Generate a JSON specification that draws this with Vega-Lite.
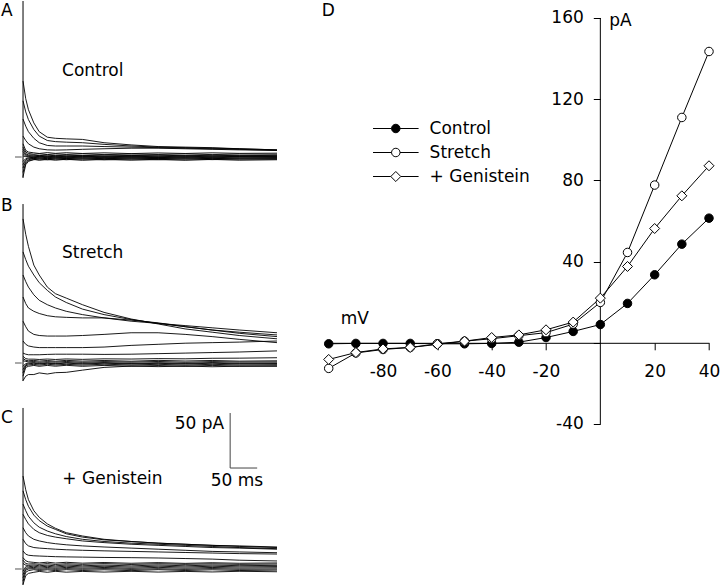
{
"$schema":"https://vega.github.io/schema/vega-lite/v6.json",
"padding":0,
"background":"white",
"bounds":"flush",
"spacing":328.7,
"config":{"view":{"stroke":null},"font":"DejaVu Sans","text":{"font":"DejaVu Sans","fontSize":17,"color":"black"},"axis":{"labelFont":"DejaVu Sans","labelFontSize":17,"labelColor":"black","domainColor":"black","tickColor":"black","grid":false,"title":null}},
"datasets":{
"tr":[
{"p":"A","v":40,"t":0,"i":69},{"p":"A","v":40,"t":5,"i":53},{"p":"A","v":40,"t":10,"i":43},{"p":"A","v":40,"t":20,"i":31},{"p":"A","v":40,"t":30,"i":23},{"p":"A","v":40,"t":45,"i":18},{"p":"A","v":40,"t":60,"i":17},{"p":"A","v":40,"t":80,"i":16.5},{"p":"A","v":40,"t":110,"i":16},{"p":"A","v":40,"t":150,"i":13},{"p":"A","v":40,"t":200,"i":11},{"p":"A","v":40,"t":250,"i":9.5},{"p":"A","v":40,"t":300,"i":9},{"p":"A","v":40,"t":350,"i":8.5},{"p":"A","v":40,"t":400,"i":7.5},{"p":"A","v":40,"t":470,"i":6.5},
{"p":"A","v":30,"t":0,"i":51},{"p":"A","v":30,"t":5,"i":41},{"p":"A","v":30,"t":10,"i":34},{"p":"A","v":30,"t":20,"i":25},{"p":"A","v":30,"t":30,"i":19},{"p":"A","v":30,"t":45,"i":15},{"p":"A","v":30,"t":60,"i":14},{"p":"A","v":30,"t":80,"i":13.5},{"p":"A","v":30,"t":110,"i":13},{"p":"A","v":30,"t":150,"i":11.5},{"p":"A","v":30,"t":200,"i":10},{"p":"A","v":30,"t":250,"i":9},{"p":"A","v":30,"t":300,"i":8.5},{"p":"A","v":30,"t":350,"i":8},{"p":"A","v":30,"t":400,"i":7.5},{"p":"A","v":30,"t":470,"i":6.5},
{"p":"A","v":20,"t":0,"i":34.5},{"p":"A","v":20,"t":5,"i":28},{"p":"A","v":20,"t":10,"i":23},{"p":"A","v":20,"t":20,"i":17},{"p":"A","v":20,"t":30,"i":13},{"p":"A","v":20,"t":45,"i":10.5},{"p":"A","v":20,"t":60,"i":10},{"p":"A","v":20,"t":80,"i":10},{"p":"A","v":20,"t":110,"i":10},{"p":"A","v":20,"t":150,"i":9.5},{"p":"A","v":20,"t":200,"i":9},{"p":"A","v":20,"t":250,"i":8.5},{"p":"A","v":20,"t":300,"i":8},{"p":"A","v":20,"t":350,"i":7.5},{"p":"A","v":20,"t":400,"i":7},{"p":"A","v":20,"t":470,"i":6},
{"p":"A","v":10,"t":0,"i":19},{"p":"A","v":10,"t":5,"i":15},{"p":"A","v":10,"t":10,"i":12},{"p":"A","v":10,"t":20,"i":9},{"p":"A","v":10,"t":30,"i":7.5},{"p":"A","v":10,"t":45,"i":6.5},{"p":"A","v":10,"t":60,"i":6.3},{"p":"A","v":10,"t":80,"i":6.5},{"p":"A","v":10,"t":110,"i":7},{"p":"A","v":10,"t":150,"i":7.5},{"p":"A","v":10,"t":200,"i":8},{"p":"A","v":10,"t":250,"i":8},{"p":"A","v":10,"t":300,"i":7.5},{"p":"A","v":10,"t":350,"i":7},{"p":"A","v":10,"t":400,"i":6.5},{"p":"A","v":10,"t":470,"i":6},
{"p":"A","v":0,"t":0,"i":12},{"p":"A","v":0,"t":5,"i":6},{"p":"A","v":0,"t":10,"i":4.5},{"p":"A","v":0,"t":20,"i":3.8},{"p":"A","v":0,"t":30,"i":3.2},{"p":"A","v":0,"t":45,"i":4},{"p":"A","v":0,"t":60,"i":3.3},{"p":"A","v":0,"t":80,"i":3.9},{"p":"A","v":0,"t":110,"i":3.2},{"p":"A","v":0,"t":150,"i":3.8},{"p":"A","v":0,"t":200,"i":3.1},{"p":"A","v":0,"t":250,"i":3.7},{"p":"A","v":0,"t":300,"i":3.2},{"p":"A","v":0,"t":350,"i":3.8},{"p":"A","v":0,"t":400,"i":3.3},{"p":"A","v":0,"t":470,"i":3.5},
{"p":"A","v":-10,"t":0,"i":9},{"p":"A","v":-10,"t":5,"i":4.5},{"p":"A","v":-10,"t":10,"i":3.2},{"p":"A","v":-10,"t":20,"i":2.5},{"p":"A","v":-10,"t":30,"i":2.9},{"p":"A","v":-10,"t":45,"i":2.2},{"p":"A","v":-10,"t":60,"i":2.8},{"p":"A","v":-10,"t":80,"i":2.3},{"p":"A","v":-10,"t":110,"i":2.9},{"p":"A","v":-10,"t":150,"i":2.2},{"p":"A","v":-10,"t":200,"i":2.7},{"p":"A","v":-10,"t":250,"i":2.3},{"p":"A","v":-10,"t":300,"i":2.8},{"p":"A","v":-10,"t":350,"i":2.2},{"p":"A","v":-10,"t":400,"i":2.7},{"p":"A","v":-10,"t":470,"i":2.5},
{"p":"A","v":-20,"t":0,"i":7},{"p":"A","v":-20,"t":5,"i":3},{"p":"A","v":-20,"t":10,"i":2},{"p":"A","v":-20,"t":20,"i":1.8},{"p":"A","v":-20,"t":30,"i":1.2},{"p":"A","v":-20,"t":45,"i":1.8},{"p":"A","v":-20,"t":60,"i":1.1},{"p":"A","v":-20,"t":80,"i":1.7},{"p":"A","v":-20,"t":110,"i":1.2},{"p":"A","v":-20,"t":150,"i":1.8},{"p":"A","v":-20,"t":200,"i":1.3},{"p":"A","v":-20,"t":250,"i":1.7},{"p":"A","v":-20,"t":300,"i":1.1},{"p":"A","v":-20,"t":350,"i":1.6},{"p":"A","v":-20,"t":400,"i":1.2},{"p":"A","v":-20,"t":470,"i":1.5},
{"p":"A","v":-30,"t":0,"i":5},{"p":"A","v":-30,"t":5,"i":2},{"p":"A","v":-30,"t":10,"i":1.3},{"p":"A","v":-30,"t":20,"i":0.7},{"p":"A","v":-30,"t":30,"i":1.3},{"p":"A","v":-30,"t":45,"i":0.6},{"p":"A","v":-30,"t":60,"i":1.2},{"p":"A","v":-30,"t":80,"i":0.7},{"p":"A","v":-30,"t":110,"i":1.3},{"p":"A","v":-30,"t":150,"i":0.6},{"p":"A","v":-30,"t":200,"i":1.2},{"p":"A","v":-30,"t":250,"i":0.8},{"p":"A","v":-30,"t":300,"i":1.3},{"p":"A","v":-30,"t":350,"i":0.7},{"p":"A","v":-30,"t":400,"i":1.2},{"p":"A","v":-30,"t":470,"i":1},
{"p":"A","v":-40,"t":0,"i":3},{"p":"A","v":-40,"t":5,"i":1},{"p":"A","v":-40,"t":10,"i":0.5},{"p":"A","v":-40,"t":20,"i":0.9},{"p":"A","v":-40,"t":30,"i":0.2},{"p":"A","v":-40,"t":45,"i":0.8},{"p":"A","v":-40,"t":60,"i":0.1},{"p":"A","v":-40,"t":80,"i":0.7},{"p":"A","v":-40,"t":110,"i":0.2},{"p":"A","v":-40,"t":150,"i":0.8},{"p":"A","v":-40,"t":200,"i":0.2},{"p":"A","v":-40,"t":250,"i":0.7},{"p":"A","v":-40,"t":300,"i":0.1},{"p":"A","v":-40,"t":350,"i":0.8},{"p":"A","v":-40,"t":400,"i":0.3},{"p":"A","v":-40,"t":470,"i":0.5},
{"p":"A","v":-50,"t":0,"i":1},{"p":"A","v":-50,"t":5,"i":0.3},{"p":"A","v":-50,"t":10,"i":0},{"p":"A","v":-50,"t":20,"i":-0.4},{"p":"A","v":-50,"t":30,"i":0.4},{"p":"A","v":-50,"t":45,"i":-0.3},{"p":"A","v":-50,"t":60,"i":0.3},{"p":"A","v":-50,"t":80,"i":-0.4},{"p":"A","v":-50,"t":110,"i":0.4},{"p":"A","v":-50,"t":150,"i":-0.3},{"p":"A","v":-50,"t":200,"i":0.3},{"p":"A","v":-50,"t":250,"i":-0.4},{"p":"A","v":-50,"t":300,"i":0.3},{"p":"A","v":-50,"t":350,"i":-0.3},{"p":"A","v":-50,"t":400,"i":0.4},{"p":"A","v":-50,"t":470,"i":0},
{"p":"A","v":-60,"t":0,"i":-4},{"p":"A","v":-60,"t":5,"i":-1.5},{"p":"A","v":-60,"t":10,"i":-0.8},{"p":"A","v":-60,"t":20,"i":-0.2},{"p":"A","v":-60,"t":30,"i":-0.9},{"p":"A","v":-60,"t":45,"i":-0.2},{"p":"A","v":-60,"t":60,"i":-0.8},{"p":"A","v":-60,"t":80,"i":-0.1},{"p":"A","v":-60,"t":110,"i":-0.9},{"p":"A","v":-60,"t":150,"i":-0.2},{"p":"A","v":-60,"t":200,"i":-0.8},{"p":"A","v":-60,"t":250,"i":-0.3},{"p":"A","v":-60,"t":300,"i":-0.9},{"p":"A","v":-60,"t":350,"i":-0.2},{"p":"A","v":-60,"t":400,"i":-0.8},{"p":"A","v":-60,"t":470,"i":-0.5},
{"p":"A","v":-70,"t":0,"i":-7},{"p":"A","v":-70,"t":5,"i":-2.5},{"p":"A","v":-70,"t":10,"i":-1.5},{"p":"A","v":-70,"t":20,"i":-1.4},{"p":"A","v":-70,"t":30,"i":-0.6},{"p":"A","v":-70,"t":45,"i":-1.5},{"p":"A","v":-70,"t":60,"i":-0.7},{"p":"A","v":-70,"t":80,"i":-1.4},{"p":"A","v":-70,"t":110,"i":-0.6},{"p":"A","v":-70,"t":150,"i":-1.5},{"p":"A","v":-70,"t":200,"i":-0.7},{"p":"A","v":-70,"t":250,"i":-1.4},{"p":"A","v":-70,"t":300,"i":-0.6},{"p":"A","v":-70,"t":350,"i":-1.5},{"p":"A","v":-70,"t":400,"i":-0.8},{"p":"A","v":-70,"t":470,"i":-1},
{"p":"A","v":-80,"t":0,"i":-10},{"p":"A","v":-80,"t":5,"i":-4},{"p":"A","v":-80,"t":10,"i":-2.5},{"p":"A","v":-80,"t":20,"i":-1.2},{"p":"A","v":-80,"t":30,"i":-1.9},{"p":"A","v":-80,"t":45,"i":-1.1},{"p":"A","v":-80,"t":60,"i":-1.8},{"p":"A","v":-80,"t":80,"i":-1.2},{"p":"A","v":-80,"t":110,"i":-1.9},{"p":"A","v":-80,"t":150,"i":-1.1},{"p":"A","v":-80,"t":200,"i":-1.8},{"p":"A","v":-80,"t":250,"i":-1.2},{"p":"A","v":-80,"t":300,"i":-1.9},{"p":"A","v":-80,"t":350,"i":-1.2},{"p":"A","v":-80,"t":400,"i":-1.8},{"p":"A","v":-80,"t":470,"i":-1.5},
{"p":"A","v":-90,"t":0,"i":-14},{"p":"A","v":-90,"t":5,"i":-5.5},{"p":"A","v":-90,"t":10,"i":-3},{"p":"A","v":-90,"t":20,"i":-2.5},{"p":"A","v":-90,"t":30,"i":-1.7},{"p":"A","v":-90,"t":45,"i":-2.6},{"p":"A","v":-90,"t":60,"i":-1.8},{"p":"A","v":-90,"t":80,"i":-2.5},{"p":"A","v":-90,"t":110,"i":-1.7},{"p":"A","v":-90,"t":150,"i":-2.6},{"p":"A","v":-90,"t":200,"i":-1.8},{"p":"A","v":-90,"t":250,"i":-2.5},{"p":"A","v":-90,"t":300,"i":-1.7},{"p":"A","v":-90,"t":350,"i":-2.4},{"p":"A","v":-90,"t":400,"i":-1.8},{"p":"A","v":-90,"t":470,"i":-2},
{"p":"A","v":-100,"t":0,"i":-18},{"p":"A","v":-100,"t":5,"i":-7},{"p":"A","v":-100,"t":10,"i":-4},{"p":"A","v":-100,"t":20,"i":-2.2},{"p":"A","v":-100,"t":30,"i":-3},{"p":"A","v":-100,"t":45,"i":-2.2},{"p":"A","v":-100,"t":60,"i":-2.9},{"p":"A","v":-100,"t":80,"i":-2.1},{"p":"A","v":-100,"t":110,"i":-3},{"p":"A","v":-100,"t":150,"i":-2.2},{"p":"A","v":-100,"t":200,"i":-2.9},{"p":"A","v":-100,"t":250,"i":-2.3},{"p":"A","v":-100,"t":300,"i":-3},{"p":"A","v":-100,"t":350,"i":-2.2},{"p":"A","v":-100,"t":400,"i":-2.9},{"p":"A","v":-100,"t":470,"i":-2.5},
{"p":"B","v":40,"t":0,"i":131},{"p":"B","v":40,"t":5,"i":117},{"p":"B","v":40,"t":10,"i":106},{"p":"B","v":40,"t":20,"i":89},{"p":"B","v":40,"t":30,"i":80},{"p":"B","v":40,"t":45,"i":69},{"p":"B","v":40,"t":60,"i":63},{"p":"B","v":40,"t":80,"i":59},{"p":"B","v":40,"t":110,"i":53},{"p":"B","v":40,"t":150,"i":46},{"p":"B","v":40,"t":200,"i":40},{"p":"B","v":40,"t":250,"i":35.5},{"p":"B","v":40,"t":300,"i":31},{"p":"B","v":40,"t":350,"i":28},{"p":"B","v":40,"t":400,"i":25},{"p":"B","v":40,"t":470,"i":22},
{"p":"B","v":30,"t":0,"i":101},{"p":"B","v":30,"t":5,"i":94},{"p":"B","v":30,"t":10,"i":88},{"p":"B","v":30,"t":20,"i":80},{"p":"B","v":30,"t":30,"i":73},{"p":"B","v":30,"t":45,"i":66},{"p":"B","v":30,"t":60,"i":60},{"p":"B","v":30,"t":80,"i":55},{"p":"B","v":30,"t":110,"i":49},{"p":"B","v":30,"t":150,"i":44},{"p":"B","v":30,"t":200,"i":39.5},{"p":"B","v":30,"t":250,"i":36},{"p":"B","v":30,"t":300,"i":33},{"p":"B","v":30,"t":350,"i":30},{"p":"B","v":30,"t":400,"i":28},{"p":"B","v":30,"t":470,"i":25.5},
{"p":"B","v":20,"t":0,"i":80},{"p":"B","v":20,"t":5,"i":74},{"p":"B","v":20,"t":10,"i":69},{"p":"B","v":20,"t":20,"i":62},{"p":"B","v":20,"t":30,"i":57},{"p":"B","v":20,"t":45,"i":53},{"p":"B","v":20,"t":60,"i":50},{"p":"B","v":20,"t":80,"i":47},{"p":"B","v":20,"t":110,"i":44},{"p":"B","v":20,"t":150,"i":41},{"p":"B","v":20,"t":200,"i":38},{"p":"B","v":20,"t":250,"i":36},{"p":"B","v":20,"t":300,"i":34},{"p":"B","v":20,"t":350,"i":32},{"p":"B","v":20,"t":400,"i":30},{"p":"B","v":20,"t":470,"i":27.5},
{"p":"B","v":10,"t":0,"i":60},{"p":"B","v":10,"t":5,"i":54},{"p":"B","v":10,"t":10,"i":50},{"p":"B","v":10,"t":20,"i":47},{"p":"B","v":10,"t":30,"i":45},{"p":"B","v":10,"t":45,"i":43},{"p":"B","v":10,"t":60,"i":42},{"p":"B","v":10,"t":80,"i":41.5},{"p":"B","v":10,"t":110,"i":41},{"p":"B","v":10,"t":150,"i":41},{"p":"B","v":10,"t":200,"i":39},{"p":"B","v":10,"t":250,"i":36.5},{"p":"B","v":10,"t":300,"i":33},{"p":"B","v":10,"t":350,"i":30},{"p":"B","v":10,"t":400,"i":27},{"p":"B","v":10,"t":470,"i":24},
{"p":"B","v":0,"t":0,"i":38},{"p":"B","v":0,"t":5,"i":33},{"p":"B","v":0,"t":10,"i":29},{"p":"B","v":0,"t":20,"i":26},{"p":"B","v":0,"t":30,"i":25},{"p":"B","v":0,"t":45,"i":24.5},{"p":"B","v":0,"t":60,"i":24.5},{"p":"B","v":0,"t":80,"i":24.5},{"p":"B","v":0,"t":110,"i":25},{"p":"B","v":0,"t":150,"i":26},{"p":"B","v":0,"t":200,"i":27.5},{"p":"B","v":0,"t":250,"i":27.5},{"p":"B","v":0,"t":300,"i":26},{"p":"B","v":0,"t":350,"i":24},{"p":"B","v":0,"t":400,"i":21.5},{"p":"B","v":0,"t":470,"i":18.5},
{"p":"B","v":-10,"t":0,"i":20},{"p":"B","v":-10,"t":5,"i":17},{"p":"B","v":-10,"t":10,"i":15.5},{"p":"B","v":-10,"t":20,"i":14.5},{"p":"B","v":-10,"t":30,"i":14},{"p":"B","v":-10,"t":45,"i":14},{"p":"B","v":-10,"t":60,"i":14},{"p":"B","v":-10,"t":80,"i":14},{"p":"B","v":-10,"t":110,"i":14},{"p":"B","v":-10,"t":150,"i":14.5},{"p":"B","v":-10,"t":200,"i":16},{"p":"B","v":-10,"t":250,"i":17},{"p":"B","v":-10,"t":300,"i":18},{"p":"B","v":-10,"t":350,"i":18.5},{"p":"B","v":-10,"t":400,"i":19},{"p":"B","v":-10,"t":470,"i":20},
{"p":"B","v":-20,"t":0,"i":9},{"p":"B","v":-20,"t":5,"i":8},{"p":"B","v":-20,"t":10,"i":7.5},{"p":"B","v":-20,"t":20,"i":7.5},{"p":"B","v":-20,"t":30,"i":7.5},{"p":"B","v":-20,"t":45,"i":7.8},{"p":"B","v":-20,"t":60,"i":8},{"p":"B","v":-20,"t":80,"i":8},{"p":"B","v":-20,"t":110,"i":8},{"p":"B","v":-20,"t":150,"i":7.8},{"p":"B","v":-20,"t":200,"i":8},{"p":"B","v":-20,"t":250,"i":8.5},{"p":"B","v":-20,"t":300,"i":9},{"p":"B","v":-20,"t":350,"i":9.5},{"p":"B","v":-20,"t":400,"i":10},{"p":"B","v":-20,"t":470,"i":11},
{"p":"B","v":-30,"t":0,"i":6},{"p":"B","v":-30,"t":5,"i":4},{"p":"B","v":-30,"t":10,"i":3.5},{"p":"B","v":-30,"t":20,"i":3.5},{"p":"B","v":-30,"t":30,"i":3.2},{"p":"B","v":-30,"t":45,"i":3.6},{"p":"B","v":-30,"t":60,"i":3.2},{"p":"B","v":-30,"t":80,"i":3.7},{"p":"B","v":-30,"t":110,"i":3.3},{"p":"B","v":-30,"t":150,"i":3.8},{"p":"B","v":-30,"t":200,"i":3.6},{"p":"B","v":-30,"t":250,"i":4},{"p":"B","v":-30,"t":300,"i":3.8},{"p":"B","v":-30,"t":350,"i":4.3},{"p":"B","v":-30,"t":400,"i":4.4},{"p":"B","v":-30,"t":470,"i":4.8},
{"p":"B","v":-40,"t":0,"i":4},{"p":"B","v":-40,"t":5,"i":2.5},{"p":"B","v":-40,"t":10,"i":2},{"p":"B","v":-40,"t":20,"i":2.4},{"p":"B","v":-40,"t":30,"i":1.7},{"p":"B","v":-40,"t":45,"i":2.3},{"p":"B","v":-40,"t":60,"i":1.6},{"p":"B","v":-40,"t":80,"i":2.4},{"p":"B","v":-40,"t":110,"i":1.7},{"p":"B","v":-40,"t":150,"i":2.3},{"p":"B","v":-40,"t":200,"i":1.6},{"p":"B","v":-40,"t":250,"i":2.4},{"p":"B","v":-40,"t":300,"i":1.8},{"p":"B","v":-40,"t":350,"i":2.3},{"p":"B","v":-40,"t":400,"i":1.7},{"p":"B","v":-40,"t":470,"i":2},
{"p":"B","v":-50,"t":0,"i":2},{"p":"B","v":-50,"t":5,"i":1.5},{"p":"B","v":-50,"t":10,"i":1},{"p":"B","v":-50,"t":20,"i":1.4},{"p":"B","v":-50,"t":30,"i":0.6},{"p":"B","v":-50,"t":45,"i":1.3},{"p":"B","v":-50,"t":60,"i":0.7},{"p":"B","v":-50,"t":80,"i":1.4},{"p":"B","v":-50,"t":110,"i":0.6},{"p":"B","v":-50,"t":150,"i":1.3},{"p":"B","v":-50,"t":200,"i":0.7},{"p":"B","v":-50,"t":250,"i":1.4},{"p":"B","v":-50,"t":300,"i":0.6},{"p":"B","v":-50,"t":350,"i":1.3},{"p":"B","v":-50,"t":400,"i":0.8},{"p":"B","v":-50,"t":470,"i":1},
{"p":"B","v":-60,"t":0,"i":-3},{"p":"B","v":-60,"t":5,"i":-0.5},{"p":"B","v":-60,"t":10,"i":0},{"p":"B","v":-60,"t":20,"i":0.4},{"p":"B","v":-60,"t":30,"i":-0.4},{"p":"B","v":-60,"t":45,"i":0.3},{"p":"B","v":-60,"t":60,"i":-0.4},{"p":"B","v":-60,"t":80,"i":0.4},{"p":"B","v":-60,"t":110,"i":-0.3},{"p":"B","v":-60,"t":150,"i":0.4},{"p":"B","v":-60,"t":200,"i":-0.4},{"p":"B","v":-60,"t":250,"i":0.3},{"p":"B","v":-60,"t":300,"i":-0.4},{"p":"B","v":-60,"t":350,"i":0.4},{"p":"B","v":-60,"t":400,"i":-0.3},{"p":"B","v":-60,"t":470,"i":0},
{"p":"B","v":-70,"t":0,"i":-6},{"p":"B","v":-70,"t":5,"i":-1.5},{"p":"B","v":-70,"t":10,"i":-0.8},{"p":"B","v":-70,"t":20,"i":-0.2},{"p":"B","v":-70,"t":30,"i":-0.9},{"p":"B","v":-70,"t":45,"i":-0.2},{"p":"B","v":-70,"t":60,"i":-0.8},{"p":"B","v":-70,"t":80,"i":-0.1},{"p":"B","v":-70,"t":110,"i":-0.9},{"p":"B","v":-70,"t":150,"i":-0.2},{"p":"B","v":-70,"t":200,"i":-0.8},{"p":"B","v":-70,"t":250,"i":-0.3},{"p":"B","v":-70,"t":300,"i":-0.9},{"p":"B","v":-70,"t":350,"i":-0.2},{"p":"B","v":-70,"t":400,"i":-0.8},{"p":"B","v":-70,"t":470,"i":-0.5},
{"p":"B","v":-80,"t":0,"i":-9},{"p":"B","v":-80,"t":5,"i":-2.5},{"p":"B","v":-80,"t":10,"i":-1.8},{"p":"B","v":-80,"t":20,"i":-1.2},{"p":"B","v":-80,"t":30,"i":-1.9},{"p":"B","v":-80,"t":45,"i":-1.1},{"p":"B","v":-80,"t":60,"i":-1.8},{"p":"B","v":-80,"t":80,"i":-1.2},{"p":"B","v":-80,"t":110,"i":-1.9},{"p":"B","v":-80,"t":150,"i":-1.1},{"p":"B","v":-80,"t":200,"i":-1.8},{"p":"B","v":-80,"t":250,"i":-1.2},{"p":"B","v":-80,"t":300,"i":-1.9},{"p":"B","v":-80,"t":350,"i":-1.2},{"p":"B","v":-80,"t":400,"i":-1.8},{"p":"B","v":-80,"t":470,"i":-1.5},
{"p":"B","v":-90,"t":0,"i":-12},{"p":"B","v":-90,"t":5,"i":-4},{"p":"B","v":-90,"t":10,"i":-3},{"p":"B","v":-90,"t":20,"i":-2.2},{"p":"B","v":-90,"t":30,"i":-3},{"p":"B","v":-90,"t":45,"i":-2.2},{"p":"B","v":-90,"t":60,"i":-2.9},{"p":"B","v":-90,"t":80,"i":-2.1},{"p":"B","v":-90,"t":110,"i":-3},{"p":"B","v":-90,"t":150,"i":-2.2},{"p":"B","v":-90,"t":200,"i":-2.9},{"p":"B","v":-90,"t":250,"i":-2.3},{"p":"B","v":-90,"t":300,"i":-3},{"p":"B","v":-90,"t":350,"i":-2.2},{"p":"B","v":-90,"t":400,"i":-2.9},{"p":"B","v":-90,"t":470,"i":-2.5},
{"p":"B","v":-100,"t":0,"i":-16},{"p":"B","v":-100,"t":5,"i":-12},{"p":"B","v":-100,"t":10,"i":-10.5},{"p":"B","v":-100,"t":20,"i":-10.5},{"p":"B","v":-100,"t":30,"i":-9},{"p":"B","v":-100,"t":45,"i":-10},{"p":"B","v":-100,"t":60,"i":-8.8},{"p":"B","v":-100,"t":80,"i":-8.5},{"p":"B","v":-100,"t":110,"i":-6.5},{"p":"B","v":-100,"t":150,"i":-4},{"p":"B","v":-100,"t":200,"i":-2.8},{"p":"B","v":-100,"t":250,"i":-3.3},{"p":"B","v":-100,"t":300,"i":-2.8},{"p":"B","v":-100,"t":350,"i":-3.4},{"p":"B","v":-100,"t":400,"i":-2.9},{"p":"B","v":-100,"t":470,"i":-3},
{"p":"C","v":40,"t":0,"i":84.5},{"p":"C","v":40,"t":5,"i":72},{"p":"C","v":40,"t":10,"i":63},{"p":"C","v":40,"t":20,"i":53},{"p":"C","v":40,"t":30,"i":47},{"p":"C","v":40,"t":45,"i":41},{"p":"C","v":40,"t":60,"i":37},{"p":"C","v":40,"t":80,"i":33},{"p":"C","v":40,"t":110,"i":30},{"p":"C","v":40,"t":150,"i":27},{"p":"C","v":40,"t":200,"i":25},{"p":"C","v":40,"t":250,"i":23.5},{"p":"C","v":40,"t":300,"i":22.5},{"p":"C","v":40,"t":350,"i":21.5},{"p":"C","v":40,"t":400,"i":21},{"p":"C","v":40,"t":470,"i":20},
{"p":"C","v":30,"t":0,"i":71},{"p":"C","v":30,"t":5,"i":63},{"p":"C","v":30,"t":10,"i":57},{"p":"C","v":30,"t":20,"i":49},{"p":"C","v":30,"t":30,"i":44},{"p":"C","v":30,"t":45,"i":39},{"p":"C","v":30,"t":60,"i":36},{"p":"C","v":30,"t":80,"i":32},{"p":"C","v":30,"t":110,"i":29},{"p":"C","v":30,"t":150,"i":26.5},{"p":"C","v":30,"t":200,"i":25},{"p":"C","v":30,"t":250,"i":23.5},{"p":"C","v":30,"t":300,"i":22.5},{"p":"C","v":30,"t":350,"i":21.5},{"p":"C","v":30,"t":400,"i":20.5},{"p":"C","v":30,"t":470,"i":19.5},
{"p":"C","v":20,"t":0,"i":59},{"p":"C","v":20,"t":5,"i":53},{"p":"C","v":20,"t":10,"i":48},{"p":"C","v":20,"t":20,"i":42},{"p":"C","v":20,"t":30,"i":38},{"p":"C","v":20,"t":45,"i":34.5},{"p":"C","v":20,"t":60,"i":32},{"p":"C","v":20,"t":80,"i":29.5},{"p":"C","v":20,"t":110,"i":27},{"p":"C","v":20,"t":150,"i":25},{"p":"C","v":20,"t":200,"i":23.5},{"p":"C","v":20,"t":250,"i":22.5},{"p":"C","v":20,"t":300,"i":21.5},{"p":"C","v":20,"t":350,"i":20.5},{"p":"C","v":20,"t":400,"i":19.5},{"p":"C","v":20,"t":470,"i":18.5},
{"p":"C","v":10,"t":0,"i":49.7},{"p":"C","v":10,"t":5,"i":45},{"p":"C","v":10,"t":10,"i":41},{"p":"C","v":10,"t":20,"i":36},{"p":"C","v":10,"t":30,"i":33},{"p":"C","v":10,"t":45,"i":30.5},{"p":"C","v":10,"t":60,"i":29},{"p":"C","v":10,"t":80,"i":27.5},{"p":"C","v":10,"t":110,"i":25.5},{"p":"C","v":10,"t":150,"i":24},{"p":"C","v":10,"t":200,"i":22.5},{"p":"C","v":10,"t":250,"i":21.5},{"p":"C","v":10,"t":300,"i":20.5},{"p":"C","v":10,"t":350,"i":19.5},{"p":"C","v":10,"t":400,"i":19},{"p":"C","v":10,"t":470,"i":18},
{"p":"C","v":0,"t":0,"i":37.5},{"p":"C","v":0,"t":5,"i":33},{"p":"C","v":0,"t":10,"i":30},{"p":"C","v":0,"t":20,"i":27},{"p":"C","v":0,"t":30,"i":25.5},{"p":"C","v":0,"t":45,"i":24},{"p":"C","v":0,"t":60,"i":23},{"p":"C","v":0,"t":80,"i":22},{"p":"C","v":0,"t":110,"i":21},{"p":"C","v":0,"t":150,"i":20},{"p":"C","v":0,"t":200,"i":19},{"p":"C","v":0,"t":250,"i":18},{"p":"C","v":0,"t":300,"i":17},{"p":"C","v":0,"t":350,"i":16},{"p":"C","v":0,"t":400,"i":15.5},{"p":"C","v":0,"t":470,"i":14.8},
{"p":"C","v":-10,"t":0,"i":27},{"p":"C","v":-10,"t":5,"i":23},{"p":"C","v":-10,"t":10,"i":21},{"p":"C","v":-10,"t":20,"i":19.5},{"p":"C","v":-10,"t":30,"i":19},{"p":"C","v":-10,"t":45,"i":18.5},{"p":"C","v":-10,"t":60,"i":18},{"p":"C","v":-10,"t":80,"i":17.5},{"p":"C","v":-10,"t":110,"i":17},{"p":"C","v":-10,"t":150,"i":16.5},{"p":"C","v":-10,"t":200,"i":16},{"p":"C","v":-10,"t":250,"i":15.5},{"p":"C","v":-10,"t":300,"i":15},{"p":"C","v":-10,"t":350,"i":14.5},{"p":"C","v":-10,"t":400,"i":14},{"p":"C","v":-10,"t":470,"i":13.6},
{"p":"C","v":-20,"t":0,"i":16.4},{"p":"C","v":-20,"t":5,"i":13.5},{"p":"C","v":-20,"t":10,"i":12.5},{"p":"C","v":-20,"t":20,"i":12},{"p":"C","v":-20,"t":30,"i":11.8},{"p":"C","v":-20,"t":45,"i":11.5},{"p":"C","v":-20,"t":60,"i":11.2},{"p":"C","v":-20,"t":80,"i":11},{"p":"C","v":-20,"t":110,"i":10.8},{"p":"C","v":-20,"t":150,"i":10.5},{"p":"C","v":-20,"t":200,"i":10.3},{"p":"C","v":-20,"t":250,"i":10},{"p":"C","v":-20,"t":300,"i":9.5},{"p":"C","v":-20,"t":350,"i":9},{"p":"C","v":-20,"t":400,"i":8},{"p":"C","v":-20,"t":470,"i":7.3},
{"p":"C","v":-30,"t":0,"i":10.3},{"p":"C","v":-30,"t":5,"i":7.5},{"p":"C","v":-30,"t":10,"i":6.5},{"p":"C","v":-30,"t":20,"i":6},{"p":"C","v":-30,"t":30,"i":5.5},{"p":"C","v":-30,"t":45,"i":6.2},{"p":"C","v":-30,"t":60,"i":5.4},{"p":"C","v":-30,"t":80,"i":6.1},{"p":"C","v":-30,"t":110,"i":5.3},{"p":"C","v":-30,"t":150,"i":5.9},{"p":"C","v":-30,"t":200,"i":5.2},{"p":"C","v":-30,"t":250,"i":5.8},{"p":"C","v":-30,"t":300,"i":5.1},{"p":"C","v":-30,"t":350,"i":5.7},{"p":"C","v":-30,"t":400,"i":5.2},{"p":"C","v":-30,"t":470,"i":5.5},
{"p":"C","v":-40,"t":0,"i":8},{"p":"C","v":-40,"t":5,"i":5},{"p":"C","v":-40,"t":10,"i":4.5},{"p":"C","v":-40,"t":20,"i":4.8},{"p":"C","v":-40,"t":30,"i":4.2},{"p":"C","v":-40,"t":45,"i":4.9},{"p":"C","v":-40,"t":60,"i":4.1},{"p":"C","v":-40,"t":80,"i":4.8},{"p":"C","v":-40,"t":110,"i":4.2},{"p":"C","v":-40,"t":150,"i":4.9},{"p":"C","v":-40,"t":200,"i":4.1},{"p":"C","v":-40,"t":250,"i":4.8},{"p":"C","v":-40,"t":300,"i":4.2},{"p":"C","v":-40,"t":350,"i":4.7},{"p":"C","v":-40,"t":400,"i":4.2},{"p":"C","v":-40,"t":470,"i":4.5},
{"p":"C","v":-50,"t":0,"i":5},{"p":"C","v":-50,"t":5,"i":3.5},{"p":"C","v":-50,"t":10,"i":3.2},{"p":"C","v":-50,"t":20,"i":3.7},{"p":"C","v":-50,"t":30,"i":2.9},{"p":"C","v":-50,"t":45,"i":3.6},{"p":"C","v":-50,"t":60,"i":2.8},{"p":"C","v":-50,"t":80,"i":3.7},{"p":"C","v":-50,"t":110,"i":2.9},{"p":"C","v":-50,"t":150,"i":3.6},{"p":"C","v":-50,"t":200,"i":2.8},{"p":"C","v":-50,"t":250,"i":3.7},{"p":"C","v":-50,"t":300,"i":2.9},{"p":"C","v":-50,"t":350,"i":3.6},{"p":"C","v":-50,"t":400,"i":3},{"p":"C","v":-50,"t":470,"i":3.3},
{"p":"C","v":-60,"t":0,"i":-2},{"p":"C","v":-60,"t":5,"i":2},{"p":"C","v":-60,"t":10,"i":2},{"p":"C","v":-60,"t":20,"i":2.6},{"p":"C","v":-60,"t":30,"i":1.8},{"p":"C","v":-60,"t":45,"i":2.5},{"p":"C","v":-60,"t":60,"i":1.7},{"p":"C","v":-60,"t":80,"i":2.6},{"p":"C","v":-60,"t":110,"i":1.8},{"p":"C","v":-60,"t":150,"i":2.5},{"p":"C","v":-60,"t":200,"i":1.7},{"p":"C","v":-60,"t":250,"i":2.6},{"p":"C","v":-60,"t":300,"i":1.8},{"p":"C","v":-60,"t":350,"i":2.5},{"p":"C","v":-60,"t":400,"i":1.9},{"p":"C","v":-60,"t":470,"i":2.2},
{"p":"C","v":-70,"t":0,"i":-5},{"p":"C","v":-70,"t":5,"i":0.5},{"p":"C","v":-70,"t":10,"i":1},{"p":"C","v":-70,"t":20,"i":1.5},{"p":"C","v":-70,"t":30,"i":0.7},{"p":"C","v":-70,"t":45,"i":1.4},{"p":"C","v":-70,"t":60,"i":0.6},{"p":"C","v":-70,"t":80,"i":1.5},{"p":"C","v":-70,"t":110,"i":0.7},{"p":"C","v":-70,"t":150,"i":1.4},{"p":"C","v":-70,"t":200,"i":0.6},{"p":"C","v":-70,"t":250,"i":1.5},{"p":"C","v":-70,"t":300,"i":0.7},{"p":"C","v":-70,"t":350,"i":1.4},{"p":"C","v":-70,"t":400,"i":0.8},{"p":"C","v":-70,"t":470,"i":1.1},
{"p":"C","v":-80,"t":0,"i":-8},{"p":"C","v":-80,"t":5,"i":-1},{"p":"C","v":-80,"t":10,"i":0},{"p":"C","v":-80,"t":20,"i":0.4},{"p":"C","v":-80,"t":30,"i":-0.4},{"p":"C","v":-80,"t":45,"i":0.3},{"p":"C","v":-80,"t":60,"i":-0.4},{"p":"C","v":-80,"t":80,"i":0.4},{"p":"C","v":-80,"t":110,"i":-0.3},{"p":"C","v":-80,"t":150,"i":0.4},{"p":"C","v":-80,"t":200,"i":-0.4},{"p":"C","v":-80,"t":250,"i":0.3},{"p":"C","v":-80,"t":300,"i":-0.4},{"p":"C","v":-80,"t":350,"i":0.4},{"p":"C","v":-80,"t":400,"i":-0.3},{"p":"C","v":-80,"t":470,"i":0},
{"p":"C","v":-90,"t":0,"i":-11},{"p":"C","v":-90,"t":5,"i":-3},{"p":"C","v":-90,"t":10,"i":-1.5},{"p":"C","v":-90,"t":20,"i":-0.6},{"p":"C","v":-90,"t":30,"i":-1.4},{"p":"C","v":-90,"t":45,"i":-0.7},{"p":"C","v":-90,"t":60,"i":-1.5},{"p":"C","v":-90,"t":80,"i":-0.6},{"p":"C","v":-90,"t":110,"i":-1.4},{"p":"C","v":-90,"t":150,"i":-0.7},{"p":"C","v":-90,"t":200,"i":-1.5},{"p":"C","v":-90,"t":250,"i":-0.6},{"p":"C","v":-90,"t":300,"i":-1.4},{"p":"C","v":-90,"t":350,"i":-0.7},{"p":"C","v":-90,"t":400,"i":-1.4},{"p":"C","v":-90,"t":470,"i":-1},
{"p":"C","v":-100,"t":0,"i":-14},{"p":"C","v":-100,"t":5,"i":-6},{"p":"C","v":-100,"t":10,"i":-4},{"p":"C","v":-100,"t":20,"i":-3},{"p":"C","v":-100,"t":30,"i":-2.2},{"p":"C","v":-100,"t":45,"i":-3},{"p":"C","v":-100,"t":60,"i":-2.1},{"p":"C","v":-100,"t":80,"i":-2.9},{"p":"C","v":-100,"t":110,"i":-2.2},{"p":"C","v":-100,"t":150,"i":-2.8},{"p":"C","v":-100,"t":200,"i":-2.1},{"p":"C","v":-100,"t":250,"i":-2.8},{"p":"C","v":-100,"t":300,"i":-2.2},{"p":"C","v":-100,"t":350,"i":-2.7},{"p":"C","v":-100,"t":400,"i":-2.1},{"p":"C","v":-100,"t":470,"i":-2.5}
],
"iv":[
{"s":"Control","v":-100,"i":-0.5},{"s":"Control","v":-90,"i":-0.3},{"s":"Control","v":-80,"i":-0.3},{"s":"Control","v":-70,"i":-0.3},{"s":"Control","v":-60,"i":-0.5},{"s":"Control","v":-50,"i":-0.5},{"s":"Control","v":-40,"i":-0.3},{"s":"Control","v":-30,"i":0.3},{"s":"Control","v":-20,"i":2.6},{"s":"Control","v":-10,"i":5.6},{"s":"Control","v":0,"i":9},{"s":"Control","v":10,"i":19.4},{"s":"Control","v":20,"i":33.5},{"s":"Control","v":30,"i":48.6},{"s":"Control","v":40,"i":61.4},
{"s":"Stretch","v":-100,"i":-12.6},{"s":"Stretch","v":-90,"i":-5},{"s":"Stretch","v":-80,"i":-3.3},{"s":"Stretch","v":-70,"i":-2.3},{"s":"Stretch","v":-60,"i":-0.5},{"s":"Stretch","v":-50,"i":0.8},{"s":"Stretch","v":-40,"i":2},{"s":"Stretch","v":-30,"i":3.5},{"s":"Stretch","v":-20,"i":5},{"s":"Stretch","v":-10,"i":9.2},{"s":"Stretch","v":0,"i":19.9},{"s":"Stretch","v":10,"i":44.5},{"s":"Stretch","v":20,"i":77.7},{"s":"Stretch","v":30,"i":111},{"s":"Stretch","v":40,"i":143.5},
{"s":"+ Genistein","v":-100,"i":-8.2},{"s":"+ Genistein","v":-90,"i":-4.8},{"s":"+ Genistein","v":-80,"i":-3},{"s":"+ Genistein","v":-70,"i":-2.3},{"s":"+ Genistein","v":-60,"i":-0.8},{"s":"+ Genistein","v":-50,"i":0.8},{"s":"+ Genistein","v":-40,"i":2.6},{"s":"+ Genistein","v":-30,"i":3.9},{"s":"+ Genistein","v":-20,"i":6.4},{"s":"+ Genistein","v":-10,"i":10.2},{"s":"+ Genistein","v":0,"i":22},{"s":"+ Genistein","v":10,"i":37.6},{"s":"+ Genistein","v":20,"i":56.3},{"s":"+ Genistein","v":30,"i":72.4},{"s":"+ Genistein","v":40,"i":87.2}
]
},
"hconcat":[
{"bounds":"flush","spacing":22,"vconcat":[
{"width":277,"height":180,"layer":[
{"data":{"name":"tr"},"transform":[{"filter":"datum.p=='A'"}],"mark":{"type":"line","stroke":"black","strokeWidth":0.9,"clip":true},"encoding":{"x":{"field":"t","type":"quantitative","scale":{"domain":[-42.6,470],"nice":false,"zero":false},"axis":null},"y":{"field":"i","type":"quantitative","scale":{"domain":[-21.8,141.8],"nice":false,"zero":false},"axis":null},"detail":{"field":"v","type":"nominal"}}},
{"data":{"values":[{}]},"mark":{"type":"rule","stroke":"black","strokeWidth":1},"encoding":{"x":{"datum":0},"y":{"datum":-19.1},"y2":{"datum":141.8}}},
{"data":{"values":[{}]},"mark":{"type":"rule","stroke":"#555555","strokeWidth":1},"encoding":{"x":{"datum":-14.8},"x2":{"datum":-2.4},"y":{"datum":0}}},
{"data":{"values":[{}]},"mark":{"type":"text","text":"A","align":"left","baseline":"middle"},"encoding":{"x":{"datum":-40.7},"y":{"datum":132.7}}},
{"data":{"values":[{}]},"mark":{"type":"text","text":"Control","align":"left","baseline":"middle"},"encoding":{"x":{"datum":72.2},"y":{"datum":78.2}}}
]},
{"width":277,"height":180,"layer":[
{"data":{"name":"tr"},"transform":[{"filter":"datum.p=='B'"}],"mark":{"type":"line","stroke":"black","strokeWidth":0.9,"clip":true},"encoding":{"x":{"field":"t","type":"quantitative","scale":{"domain":[-42.6,470],"nice":false,"zero":false},"axis":null},"y":{"field":"i","type":"quantitative","scale":{"domain":[-18.18,145.45],"nice":false,"zero":false},"axis":null},"detail":{"field":"v","type":"nominal"}}},
{"data":{"values":[{}]},"mark":{"type":"rule","stroke":"black","strokeWidth":1},"encoding":{"x":{"datum":0},"y":{"datum":-16.4},"y2":{"datum":144.5}}},
{"data":{"values":[{}]},"mark":{"type":"rule","stroke":"#555555","strokeWidth":1},"encoding":{"x":{"datum":-14.8},"x2":{"datum":-2.4},"y":{"datum":0}}},
{"data":{"values":[{}]},"mark":{"type":"text","text":"B","align":"left","baseline":"middle"},"encoding":{"x":{"datum":-40.7},"y":{"datum":142.7}}},
{"data":{"values":[{}]},"mark":{"type":"text","text":"Stretch","align":"left","baseline":"middle"},"encoding":{"x":{"datum":72.2},"y":{"datum":100.3}}}
]},
{"width":277,"height":180,"layer":[
{"data":{"name":"tr"},"transform":[{"filter":"datum.p=='C'"}],"mark":{"type":"line","stroke":"black","strokeWidth":0.9,"clip":true},"encoding":{"x":{"field":"t","type":"quantitative","scale":{"domain":[-42.6,470],"nice":false,"zero":false},"axis":null},"y":{"field":"i","type":"quantitative","scale":{"domain":[-14.55,149.09],"nice":false,"zero":false},"axis":null},"detail":{"field":"v","type":"nominal"}}},
{"data":{"values":[{}]},"mark":{"type":"rule","stroke":"black","strokeWidth":1},"encoding":{"x":{"datum":0},"y":{"datum":-14.55},"y2":{"datum":146.4}}},
{"data":{"values":[{}]},"mark":{"type":"rule","stroke":"#555555","strokeWidth":1},"encoding":{"x":{"datum":-14.8},"x2":{"datum":-2.4},"y":{"datum":0}}},
{"data":{"values":[{}]},"mark":{"type":"rule","stroke":"#444444","strokeWidth":1},"encoding":{"x":{"datum":383.3},"y":{"datum":91.8},"y2":{"datum":141.8}}},
{"data":{"values":[{}]},"mark":{"type":"rule","stroke":"#444444","strokeWidth":1},"encoding":{"x":{"datum":383.3},"x2":{"datum":433.3},"y":{"datum":91.8}}},
{"data":{"values":[{}]},"mark":{"type":"text","text":"C","align":"left","baseline":"middle"},"encoding":{"x":{"datum":-40.7},"y":{"datum":137}}},
{"data":{"values":[{}]},"mark":{"type":"text","text":"+ Genistein","align":"left","baseline":"middle"},"encoding":{"x":{"datum":72.8},"y":{"datum":81.5}}},
{"data":{"values":[{}]},"mark":{"type":"text","text":"50 pA","align":"right","baseline":"middle"},"encoding":{"x":{"datum":372.2},"y":{"datum":131.8}}},
{"data":{"values":[{}]},"mark":{"type":"text","text":"50 ms","align":"center","baseline":"middle"},"encoding":{"x":{"datum":395.7},"y":{"datum":80}}}
]}
]},
{"width":380.3,"height":430,"layer":[
{"data":{"name":"iv"},"mark":{"type":"line","stroke":"black","strokeWidth":1},"encoding":{
"x":{"field":"v","type":"quantitative","scale":{"domain":[-100,40],"nice":false,"zero":false},"axis":{"values":[-80,-60,-40,-20,20,40],"labelExpr":"replace(datum.label,'\u2212','-')","offset":-88.2,"tickSize":7,"labelPadding":14,"labelFlush":false,"labelOverlap":false,"labelBound":false}},
"y":{"field":"i","type":"quantitative","scale":{"domain":[-43.45,168.37],"nice":false,"zero":false},"axis":{"values":[-40,0,40,80,120,160],"labelExpr":"datum.value==0?'':replace(datum.label,'\u2212','-')","offset":-271.6,"tickSize":7,"labelPadding":10,"domain":false,"labelFlush":false,"labelOverlap":false,"labelBound":false}},
"detail":{"field":"s","type":"nominal"}}},
{"data":{"values":[{}]},"mark":{"type":"rule","stroke":"black","strokeWidth":1},"encoding":{"x":{"datum":0},"y":{"datum":-40},"y2":{"datum":160}}},
{"data":{"name":"iv"},"transform":[{"filter":"datum.s=='Control'"}],"mark":{"type":"point","shape":"circle","filled":true,"fill":"black","stroke":"black","strokeWidth":1,"size":72,"opacity":1},"encoding":{"x":{"field":"v","type":"quantitative"},"y":{"field":"i","type":"quantitative"}}},
{"data":{"name":"iv"},"transform":[{"filter":"datum.s=='Stretch'"}],"mark":{"type":"point","shape":"circle","filled":true,"fill":"white","stroke":"black","strokeWidth":1,"size":72,"opacity":1},"encoding":{"x":{"field":"v","type":"quantitative"},"y":{"field":"i","type":"quantitative"}}},
{"data":{"name":"iv"},"transform":[{"filter":"datum.s=='+ Genistein'"}],"mark":{"type":"point","shape":"diamond","filled":true,"fill":"white","stroke":"black","strokeWidth":1,"size":100,"opacity":1},"encoding":{"x":{"field":"v","type":"quantitative"},"y":{"field":"i","type":"quantitative"}}},
{"data":{"name":"iv"},"transform":[{"filter":"false"}],"mark":{"type":"point","filled":true,"strokeWidth":1,"opacity":1},"encoding":{
"shape":{"field":"s","type":"nominal","scale":{"domain":["Control","Stretch","+ Genistein"],"range":["M-5.37,0H-1M1,0H5.37M1,0A1,1,0,1,1,-1,0A1,1,0,1,1,1,0Z","M-5.37,0H-1M1,0H5.37M1,0A1,1,0,1,1,-1,0A1,1,0,1,1,1,0Z","M-5.37,0H-1.18M1.18,0H5.37M0,-1.18L1.18,0L0,1.18L-1.18,0Z"]},"legend":{"orient":"none","legendX":387.3,"legendY":119,"title":null,"padding":0,"labelOffset":25.3,"rowPadding":6,"symbolSize":72,"symbolStrokeWidth":1,"labelFontSize":17,"labelFont":"DejaVu Sans","labelColor":"black"}},
"fill":{"field":"s","type":"nominal","scale":{"domain":["Control","Stretch","+ Genistein"],"range":["black","white","white"]}},
"stroke":{"field":"s","type":"nominal","scale":{"domain":["Control","Stretch","+ Genistein"],"range":["black","black","black"]}}}},
{"data":{"values":[{}]},"mark":{"type":"text","text":"pA","align":"left","baseline":"middle"},"encoding":{"x":{"datum":3.3},"y":{"datum":158.5}}},
{"data":{"values":[{}]},"mark":{"type":"text","text":"mV","align":"left","baseline":"middle"},"encoding":{"x":{"datum":-95.6},"y":{"datum":11.57}}},
{"data":{"values":[{}]},"mark":{"type":"text","text":"D","align":"left","baseline":"middle"},"encoding":{"x":{"datum":-102.6},"y":{"datum":163.2}}}
]}
]
}
